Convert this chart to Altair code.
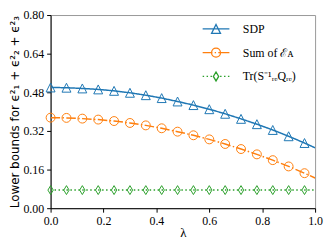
import altair as alt
import pandas as pd

lam = [0.00, 0.06, 0.12, 0.18, 0.24, 0.30, 0.36, 0.42, 0.48, 0.54,
       0.60, 0.66, 0.72, 0.78, 0.84, 0.90, 0.96, 1.00]
sdp = [0.500, 0.499, 0.496, 0.492, 0.486, 0.478, 0.468, 0.456, 0.442, 0.427,
       0.410, 0.391, 0.370, 0.348, 0.324, 0.298, 0.270, 0.250]
sum_ea = [0.375, 0.374, 0.371, 0.367, 0.361, 0.353, 0.343, 0.331, 0.317, 0.302,
          0.285, 0.266, 0.245, 0.223, 0.199, 0.173, 0.145, 0.125]
trace = [0.075, 0.075, 0.075, 0.075, 0.075, 0.075, 0.075, 0.075, 0.075, 0.075,
         0.075, 0.075, 0.075, 0.075, 0.075, 0.075, 0.075, 0.075]

series_names = ["SDP", "Sum of ℰᴀ", "Tr(S⁻¹ᵣₑQᵣₑ)"]
colors = ["#1f77b4", "#ff7f0e", "#2ca02c"]
x_ticks = [0.0, 0.2, 0.4, 0.6, 0.8, 1.0]
y_ticks = [0.0, 0.16, 0.32, 0.48, 0.64, 0.80]

SERIF = "Liberation Serif"

rows = []
for name, vals in zip(series_names, [sdp, sum_ea, trace]):
    for l, v in zip(lam, vals):
        rows.append({"lam": l, "value": v, "series": name})
df = pd.DataFrame(rows)

legend_df = pd.DataFrame({"series": series_names, "lam": [0.5] * 3, "value": [-1.0] * 3})

tri = "M0,-1L1,1L-1,1Z"
circ = "M1,0A1,1,0,1,1,-1,0A1,1,0,1,1,1,0Z"
dia = "M0,-1L0.6,0L0,1L-0.6,0Z"

leg_tri = "M-3,0H3" + tri
leg_circ = "M-3,0H-0.8M-0.3,0H0M0.5,0H3" + circ
leg_dia = ("M-3,0H-2.67M-2.12,0H-1.79M-1.24,0H-0.91M0.91,0H1.24M1.79,0H2.12M2.67,0H3" + dia)

x = alt.X("lam:Q", scale=alt.Scale(domain=[0, 1], nice=False, zero=False),
          axis=alt.Axis(values=x_ticks, format=".1f", title="λ"))
y = alt.Y("value:Q", scale=alt.Scale(domain=[0, 0.8], nice=False),
          axis=alt.Axis(values=y_ticks, format=".2f",
                        title="Lower bounds for ϵ²₁ + ϵ²₂ + ϵ²₃",
                        titleFont="DejaVu Sans", titleFontSize=12,
                        titleX=-36, titleBaseline="middle"))

color_scale = alt.Scale(domain=series_names, range=colors)

lines = alt.Chart(df).mark_line(strokeWidth=1.5, clip=True).encode(
    x=x, y=y,
    color=alt.Color("series:N", scale=color_scale, legend=None),
    strokeDash=alt.StrokeDash("series:N", scale=alt.Scale(
        domain=series_names, range=[[1, 0], [9.6, 2.4, 1.5, 2.4], [1.5, 2.5]]), legend=None),
)

points = alt.Chart(df).transform_filter(alt.datum.lam < 0.99).mark_point(
    filled=False, size=81, strokeWidth=1, opacity=1).encode(
    x=x, y=y,
    color=alt.Color("series:N", scale=color_scale, legend=None),
    shape=alt.Shape("series:N", scale=alt.Scale(domain=series_names, range=[tri, circ, dia]), legend=None),
)

leg = alt.Legend(title=None, orient="none", legendX=161, legendY=8, padding=0,
                 rowPadding=8, labelFont=SERIF, labelFontSize=12,
                 labelColor="black", labelOffset=21, symbolStrokeWidth=1.3,
                 symbolSize=81)

legend_layer = alt.Chart(legend_df).mark_point(filled=False, size=81, clip=True, opacity=1).encode(
    x=x, y=y,
    color=alt.Color("series:N", scale=color_scale, legend=leg),
    shape=alt.Shape("series:N", scale=alt.Scale(domain=series_names, range=[leg_tri, leg_circ, leg_dia]), legend=leg),
)

chart = alt.layer(lines, points, legend_layer).resolve_scale(
    shape="independent", color="independent", strokeDash="independent"
).properties(
    width=267, height=195,
    autosize=alt.AutoSizeParams(type="none"),
    padding={"left": 43, "top": 6, "right": 9, "bottom": 31},
).configure_view(
    stroke="#999999", strokeWidth=1
).configure_axis(
    grid=False, domainColor="black", tickColor="black", domainWidth=1, tickWidth=1,
    tickSize=4, labelFont=SERIF, labelFontSize=12, labelColor="black",
    labelPadding=3, labelFlush=False, titleColor="black", titleFontWeight="normal",
).configure_axisX(
    titleFont=SERIF, titleFontSize=13, titlePadding=1,
)

chart.save("out.html", embed_options={"renderer": "svg", "actions": False})
